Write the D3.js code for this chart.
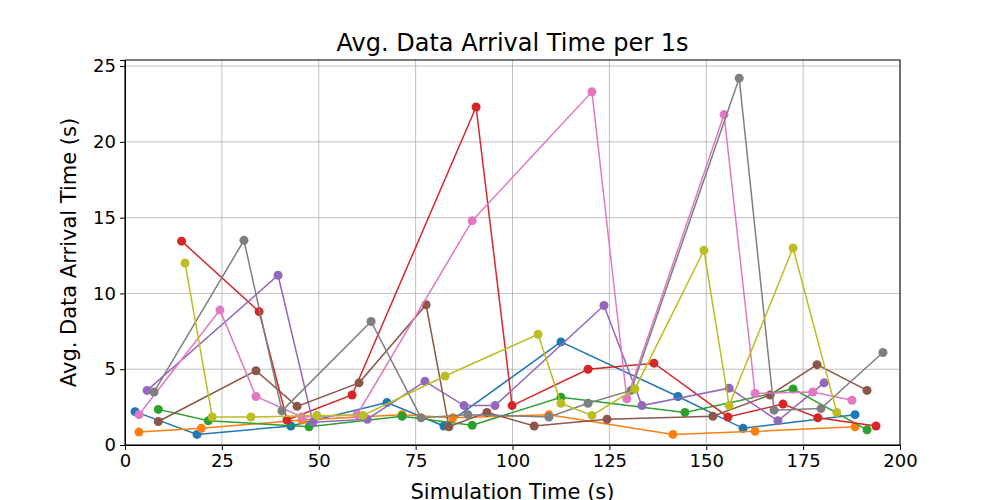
<!DOCTYPE html>
<html>
<head>
<meta charset="utf-8">
<script src="https://cdn.jsdelivr.net/npm/d3@7"></script>
<style>
body { margin: 0; background: #fff; font-family: "DejaVu Sans", sans-serif; }
.grid line { stroke: #b0b0b0; stroke-width: 0.8; }
.axis text { font-size: 18px; font-family: "DejaVu Sans", sans-serif; fill: #000; }
</style>
</head>
<body>
<script>
// data, one array per series
var blue = [[2.6,2.2],[18.6,0.7],[42.8,1.25],[67.6,2.8],[82.3,1.25],[112.5,6.8],[142.7,3.2],[159.5,1.1],[188.4,2.0]];
var orange = [[3.6,0.85],[19.7,1.1],[45.7,1.65],[71.5,2.0],[84.6,1.8],[109.4,2.0],[141.4,0.7],[162.6,0.9],[188.4,1.2]];
var green = [[8.6,2.35],[21.5,1.6],[47.5,1.2],[71.5,1.9],[89.6,1.3],[112.5,3.15],[144.5,2.15],[172.4,3.7],[191.5,1.0]];
var red = [[14.6,13.45],[34.6,8.8],[41.8,1.65],[58.6,3.3],[90.6,22.3],[99.9,2.6],[119.5,5.0],[136.5,5.4],[155.6,1.85],[169.8,2.7],[178.8,1.8],[193.8,1.25]];
var purple = [[5.7,3.6],[39.5,11.2],[48.5,1.5],[62.5,1.7],[77.4,4.2],[87.5,2.6],[95.5,2.6],[123.6,9.2],[133.4,2.6],[155.9,3.75],[168.5,1.6],[180.4,4.1]];
var brown = [[8.6,1.55],[33.8,4.9],[44.4,2.55],[60.4,4.1],[77.7,9.25],[83.6,1.2],[93.4,2.15],[105.6,1.25],[124.4,1.7],[151.7,1.9],[166.5,3.3],[178.6,5.3],[191.5,3.6]];
var pink = [[3.6,2.0],[24.5,8.9],[33.8,3.2],[45.7,1.85],[59.9,2.0],[89.6,14.8],[120.5,23.3],[129.5,3.05],[154.6,21.8],[162.6,3.4],[177.5,3.5],[187.6,2.95]];
var gray = [[7.5,3.5],[30.7,13.5],[40.5,2.25],[63.5,8.15],[76.4,1.8],[88.5,2.0],[109.4,1.85],[119.5,2.75],[130.6,3.6],[158.5,24.2],[167.5,2.3],[179.6,2.4],[195.6,6.1]];
var olive = [[15.5,12.0],[22.5,1.85],[32.5,1.85],[49.5,1.95],[61.4,1.95],[82.6,4.55],[106.6,7.3],[112.5,2.75],[120.5,1.95],[131.6,3.7],[149.4,12.85],[155.9,2.6],[172.4,13.0],[183.7,2.15]];

var series = [blue, orange, green, red, purple, brown, pink, gray, olive];
var colors = ['#1f77b4','#ff7f0e','#2ca02c','#d62728','#9467bd','#8c564b','#e377c2','#7f7f7f','#bcbd22'];
var xTicks = [0, 25, 50, 75, 100, 125, 150, 175, 200];
var yTicks = [0, 5, 10, 15, 20, 25];

var mLeft = 125, mRight = 900, mTop = 60, mBottom = 445;
var svg = d3.select('body').append('svg').attr('width', 1000).attr('height', 500);

var x = d3.scaleLinear().domain([0, 200]).range([mLeft, mRight]);
var y = d3.scaleLinear().domain([0, 25.4]).range([mBottom, mTop]);

var g = svg.append('g').attr('class', 'grid');
g.selectAll('.vx').data(xTicks).enter().append('line')
  .attr('x1', function (d) { return x(d); }).attr('x2', function (d) { return x(d); })
  .attr('y1', mTop).attr('y2', mBottom);
g.selectAll('.hy').data(yTicks).enter().append('line')
  .attr('y1', function (d) { return y(d); }).attr('y2', function (d) { return y(d); })
  .attr('x1', mLeft).attr('x2', mRight);

var line = d3.line().x(function (d) { return x(d[0]); }).y(function (d) { return y(d[1]); });

series.forEach(function (s, i) {
  svg.append('path').datum(s).attr('d', line)
    .attr('fill', 'none').attr('stroke', colors[i]).attr('stroke-width', 1.5);
  svg.selectAll('.pt' + i).data(s).enter().append('circle')
    .attr('cx', function (d) { return x(d[0]); }).attr('cy', function (d) { return y(d[1]); })
    .attr('r', 4.5).attr('fill', colors[i]);
});

svg.append('g').attr('class', 'axis').attr('transform', 'translate(0,' + mBottom + ')')
  .call(d3.axisBottom(x).tickValues(xTicks).tickSize(5).tickPadding(4));
svg.append('g').attr('class', 'axis').attr('transform', 'translate(' + mLeft + ',0)')
  .call(d3.axisLeft(y).tickValues(yTicks).tickSize(5).tickPadding(4));
svg.selectAll('.axis path, .axis line').attr('stroke', '#000');

svg.append('rect').attr('x', mLeft).attr('y', mTop).attr('width', mRight - mLeft).attr('height', mBottom - mTop)
  .attr('fill', 'none').attr('stroke', '#000').attr('stroke-width', 1);

svg.append('text').attr('x', (mLeft + mRight) / 2).attr('y', 51).attr('text-anchor', 'middle')
  .style('font-size', '24px').text('Avg. Data Arrival Time per 1s');
svg.append('text').attr('x', (mLeft + mRight) / 2).attr('y', 499).attr('text-anchor', 'middle')
  .style('font-size', '21px').text('Simulation Time (s)');
svg.append('text').attr('transform', 'translate(76,' + (mTop + mBottom) / 2 + ') rotate(-90)')
  .attr('text-anchor', 'middle').style('font-size', '21px').text('Avg. Data Arrival Time (s)');
</script>
</body>
</html>
